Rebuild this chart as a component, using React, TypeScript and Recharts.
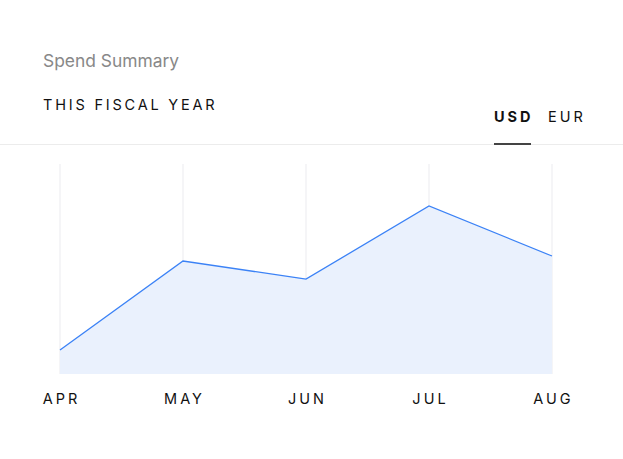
import { Area, AreaChart, CartesianGrid, XAxis, YAxis } from "recharts";

const months = ["APR", "MAY", "JUN", "JUL", "AUG"];
const spend = [11.4, 53.8, 45.2, 80, 56.2];
const currencies = ["USD", "EUR"];

const data = months.map((month, i) => ({ month, spend: spend[i] }));

const font = "Inter, 'Noto Sans', sans-serif";

export default function App() {
  return (
    <div style={{ position: "absolute", left: 0, top: 0, width: 623, height: 459, background: "#fff", fontFamily: font }}>
      <div style={{ position: "absolute", left: 43, top: 50, fontSize: 17.4, color: "#888", fontWeight: 400 }}>Spend Summary</div>
      <div style={{ position: "absolute", left: 43, top: 96, fontSize: 14.5, letterSpacing: 2.8, color: "#111" }}>THIS FISCAL YEAR</div>
      <div style={{ position: "absolute", left: 0, top: 144, width: 623, height: 1, background: "#ececec" }} />
      {currencies.map((c, i) => (
        <div
          key={c}
          style={{
            position: "absolute",
            left: i === 0 ? 494 : 548,
            top: 108,
            fontSize: 14.5,
            letterSpacing: 3,
            fontWeight: i === 0 ? 700 : 400,
            color: "#111",
          }}
        >
          {c}
        </div>
      ))}
      <div style={{ position: "absolute", left: 494, top: 143, width: 37, height: 2, background: "#444" }} />
      <div style={{ position: "absolute", left: 0, top: 0 }}>
        <AreaChart width={623} height={459} data={data} margin={{ top: 164, right: 71, left: 60, bottom: 45 }}>
          <CartesianGrid horizontal={false} stroke="#ebebef" />
          <XAxis
            dataKey="month"
            axisLine={false}
            tickLine={false}
            height={40}
            tickMargin={14}
            dx={1.5}
            tick={{ fontSize: 14.5, fill: "#111", letterSpacing: 3, fontFamily: font }}
            interval={0}
          />
          <YAxis hide domain={[0, 100]} />
          <Area
            type="linear"
            dataKey="spend"
            stroke="#3b82f6"
            strokeWidth={1.3}
            fill="#eaf1fd"
            fillOpacity={1}
            isAnimationActive={false}
            dot={false}
            activeDot={false}
          />
        </AreaChart>
      </div>
    </div>
  );
}
